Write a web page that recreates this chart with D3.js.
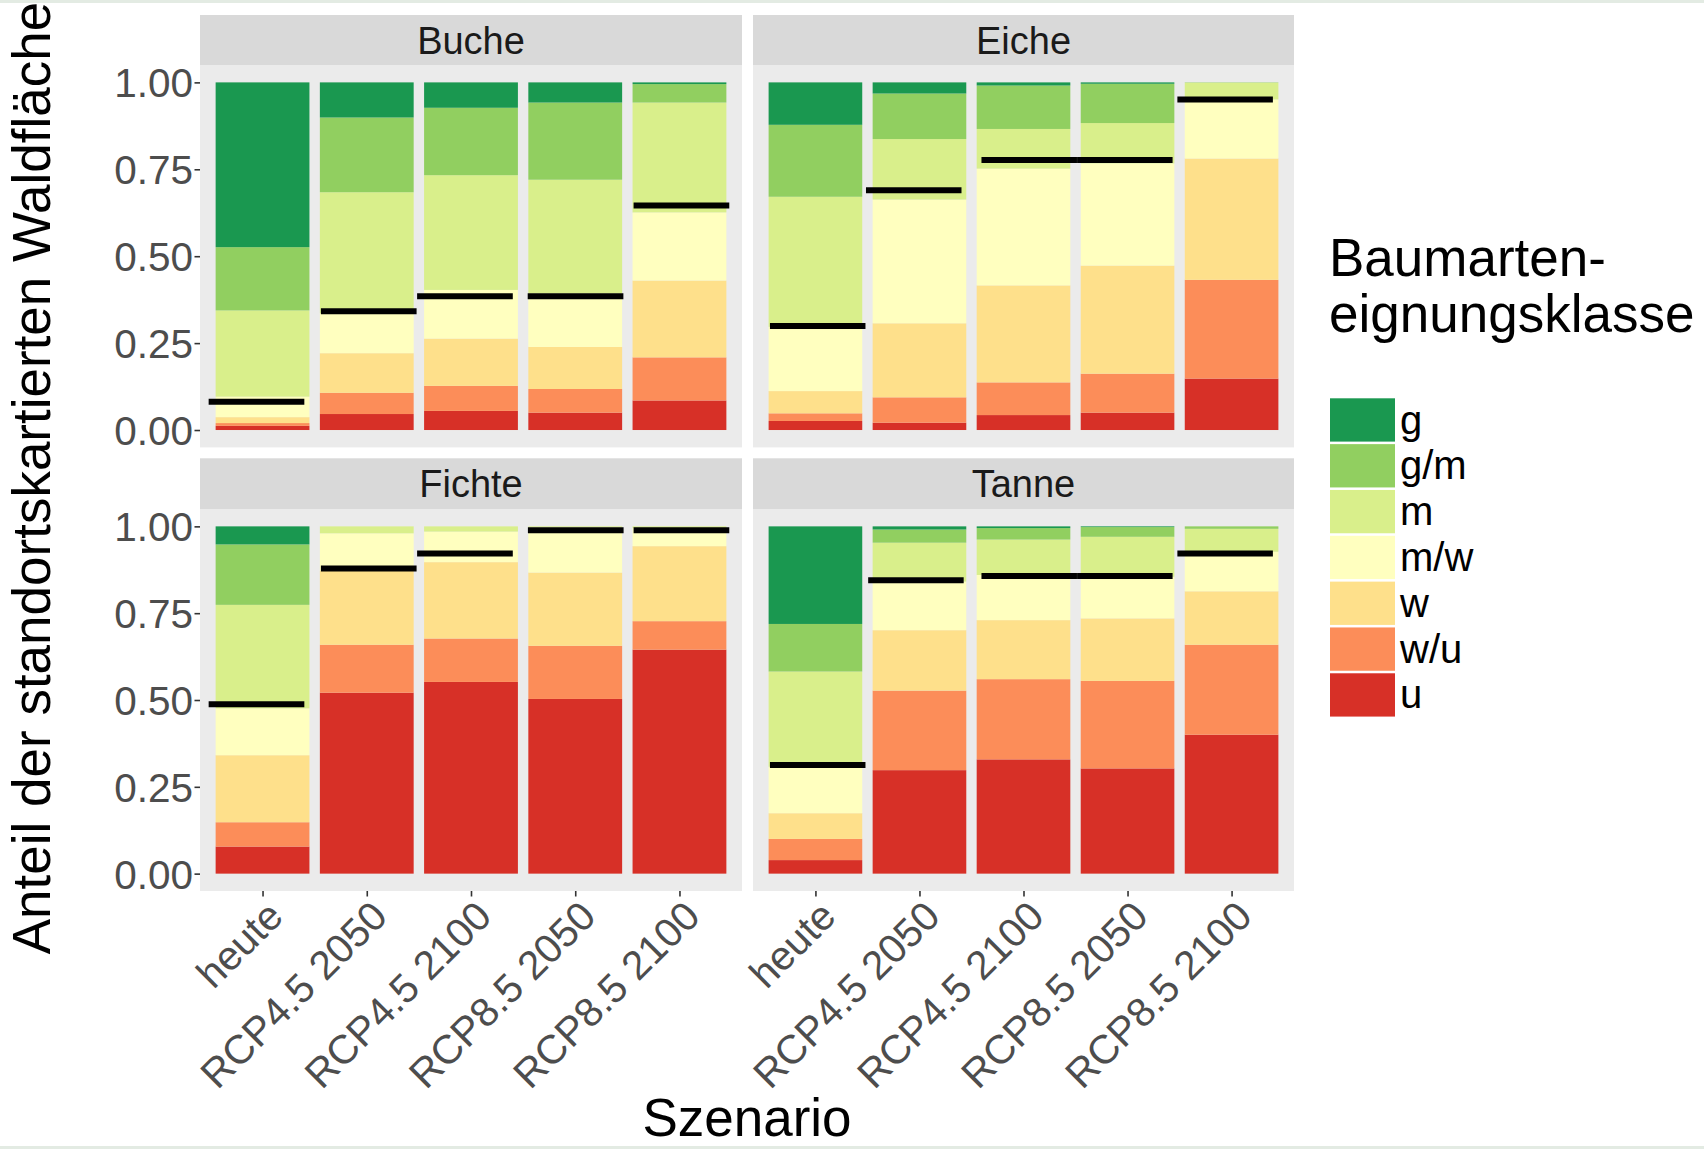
<!DOCTYPE html>
<html>
<head>
<meta charset="utf-8">
<script src="https://cdn.jsdelivr.net/npm/d3@7"></script>
<style>
  html, body { margin: 0; padding: 0; background: #ffffff; }
  svg { display: block; font-family: "Liberation Sans", Arial, sans-serif; }
</style>
</head>
<body>
<svg id="chart" width="1704" height="1149"></svg>
<script>
// ---------- DATA ----------
const scenarios = ["heute", "RCP4.5 2050", "RCP4.5 2100", "RCP8.5 2050", "RCP8.5 2100"];
const classes = ["g", "g/m", "m", "m/w", "w", "w/u", "u"];
const classColors = ["#1a9850", "#91cf60", "#d9ef8b", "#ffffbf", "#fee08b", "#fc8d59", "#d73027"];
const species = ["Buche", "Eiche", "Fichte", "Tanne"];
const yTicks = [0, 0.25, 0.5, 0.75, 1];

// shares per class (rows: g, g/m, m, m/w, w, w/u, u), columns = scenarios
const buche = [
  [0.474, 0.101, 0.073, 0.058, 0.005],
  [0.182, 0.215, 0.194, 0.222, 0.053],
  [0.248, 0.348, 0.330, 0.327, 0.316],
  [0.059, 0.115, 0.140, 0.154, 0.196],
  [0.017, 0.114, 0.136, 0.121, 0.221],
  [0.008, 0.061, 0.072, 0.068, 0.124],
  [0.012, 0.046, 0.055, 0.050, 0.085]
];
const eiche = [
  [0.122, 0.032, 0.009, 0.004, 0.000],
  [0.207, 0.131, 0.125, 0.113, 0.001],
  [0.374, 0.174, 0.114, 0.116, 0.048],
  [0.185, 0.356, 0.336, 0.294, 0.170],
  [0.064, 0.213, 0.279, 0.311, 0.349],
  [0.022, 0.073, 0.094, 0.112, 0.284],
  [0.026, 0.021, 0.043, 0.050, 0.148]
];
const fichte = [
  [0.052, 0.000, 0.000, 0.000, 0.000],
  [0.174, 0.000, 0.000, 0.000, 0.000],
  [0.298, 0.020, 0.015, 0.003, 0.005],
  [0.135, 0.108, 0.088, 0.130, 0.052],
  [0.193, 0.213, 0.220, 0.211, 0.216],
  [0.070, 0.138, 0.125, 0.153, 0.082],
  [0.078, 0.521, 0.552, 0.503, 0.645]
];
const tanne = [
  [0.281, 0.009, 0.005, 0.002, 0.000],
  [0.137, 0.038, 0.033, 0.028, 0.007],
  [0.274, 0.112, 0.102, 0.115, 0.066],
  [0.134, 0.140, 0.130, 0.120, 0.114],
  [0.074, 0.174, 0.170, 0.180, 0.154],
  [0.061, 0.229, 0.231, 0.252, 0.259],
  [0.039, 0.298, 0.329, 0.303, 0.400]
];
// black marker level per scenario
const bucheMark  = [0.081, 0.342, 0.385, 0.385, 0.646];
const eicheMark  = [0.299, 0.690, 0.777, 0.777, 0.951];
const fichteMark = [0.488, 0.879, 0.922, 0.989, 0.989];
const tanneMark  = [0.313, 0.845, 0.857, 0.857, 0.922];
// horizontal jitter of the marker (in category units)
const bucheJit  = [-0.058, 0.019, -0.058, 0.003, 0.019];
const eicheJit  = [0.022, -0.055, 0.055, -0.026, -0.062];
const fichteJit = [-0.058, 0.019, -0.058, 0.005, 0.019];
const tanneJit  = [0.022, -0.034, 0.055, -0.026, -0.062];

const speciesData = [buche, eiche, fichte, tanne];
const speciesMark = [bucheMark, eicheMark, fichteMark, tanneMark];
const speciesJit = [bucheJit, eicheJit, fichteJit, tanneJit];

// ---------- LAYOUT ----------
const svg = d3.select("#chart");
const colX = [[200, 742], [753, 1294]];
const rowY = [{strip: [15, 65], panel: [65, 447.4]}, {strip: [458.3, 509], panel: [509, 891]}];
const tickFont = 40.5, stripFont = 38, titleFont = 53, legFont = 40;

// frame lines of the screenshot
svg.append("rect").attr("x", 0).attr("y", 0).attr("width", 1704).attr("height", 3).attr("fill", "#e3ebe3");
svg.append("rect").attr("x", 0).attr("y", 1146).attr("width", 1704).attr("height", 3).attr("fill", "#e3ebe3");

const color = d3.scaleOrdinal().domain(classes).range(classColors);

species.forEach((sp, si) => {
  const col = si % 2, row = Math.floor(si / 2);
  const [x0, x1] = colX[col];
  const R = rowY[row];
  const x = d3.scalePoint().domain(scenarios).range([x0, x1]).padding(0.6);
  const step = x.step();
  const y = d3.scaleLinear().domain([-0.05, 1.05]).range([R.panel[1], R.panel[0]]);

  const g = svg.append("g");
  // strip
  g.append("rect").attr("x", x0).attr("y", R.strip[0]).attr("width", x1 - x0)
    .attr("height", R.strip[1] - R.strip[0]).attr("fill", "#d9d9d9");
  g.append("text").attr("x", (x0 + x1) / 2).attr("y", (R.strip[0] + R.strip[1]) / 2 + 0.358 * stripFont)
    .attr("text-anchor", "middle").attr("font-size", stripFont).attr("fill", "#1a1a1a").text(sp);
  // panel
  g.append("rect").attr("x", x0).attr("y", R.panel[0]).attr("width", x1 - x0)
    .attr("height", R.panel[1] - R.panel[0]).attr("fill", "#ebebeb");

  // stacked data
  const rows = scenarios.map((s, j) => {
    const o = {scenario: s};
    classes.forEach((c, ci) => { o[c] = speciesData[si][ci][j]; });
    return o;
  });
  const stack = d3.stack().keys(classes.slice().reverse());
  const series = stack(rows);
  g.selectAll("g.layer").data(series).join("g").attr("class", "layer")
    .attr("fill", d => color(d.key))
    .selectAll("rect").data(d => d).join("rect")
    .attr("x", d => x(d.data.scenario) - 0.45 * step)
    .attr("width", 0.9 * step)
    .attr("y", d => y(d[1]))
    .attr("height", d => Math.max(0, y(d[0]) - y(d[1])));

  // markers
  g.selectAll("line.mark").data(scenarios).join("line").attr("class", "mark")
    .attr("x1", (d, j) => x(d) + (speciesJit[si][j] - 0.459) * step)
    .attr("x2", (d, j) => x(d) + (speciesJit[si][j] + 0.459) * step)
    .attr("y1", (d, j) => y(speciesMark[si][j]))
    .attr("y2", (d, j) => y(speciesMark[si][j]))
    .attr("stroke", "#000").attr("stroke-width", 6);

  // y axis (left column only)
  if (col === 0) {
    const ya = g.append("g").attr("transform", `translate(${x0},0)`)
      .call(d3.axisLeft(y).tickValues(yTicks).tickFormat(d3.format(".2f")).tickSize(5.5).tickPadding(1.5));
    ya.select(".domain").remove();
    ya.selectAll(".tick line").attr("stroke", "#333333").attr("stroke-width", 1.6);
    ya.selectAll(".tick text").attr("font-size", tickFont).attr("fill", "#4d4d4d")
      .attr("font-family", "Liberation Sans, Arial, sans-serif").attr("dy", "0.36em");
  }
  // x axis (bottom row only)
  if (row === 1) {
    const xa = g.append("g").attr("transform", `translate(0,${R.panel[1]})`)
      .call(d3.axisBottom(x).tickSize(5.5).tickFormat(""));
    xa.select(".domain").remove();
    xa.selectAll(".tick line").attr("stroke", "#333333").attr("stroke-width", 1.6);
    g.selectAll("text.xl").data(scenarios).join("text").attr("class", "xl")
      .attr("transform", d => `translate(${x(d) + 2},${R.panel[1] + 7}) rotate(-45)`)
      .attr("text-anchor", "end").attr("dy", "0.72em")
      .attr("font-size", tickFont).attr("fill", "#4d4d4d").text(d => d);
  }
});

// axis titles
svg.append("text").attr("x", 747).attr("y", 1136).attr("text-anchor", "middle")
  .attr("font-size", titleFont).attr("fill", "#000").text("Szenario");
svg.append("text").attr("transform", "translate(50,478) rotate(-90)").attr("text-anchor", "middle")
  .attr("font-size", titleFont).attr("fill", "#000").text("Anteil der standortskartierten Waldfläche");

// legend
const lg = svg.append("g");
lg.append("text").attr("x", 1329).attr("y", 276).attr("font-size", titleFont).attr("fill", "#000").text("Baumarten-");
lg.append("text").attr("x", 1329).attr("y", 332).attr("font-size", titleFont).attr("fill", "#000").text("eignungsklasse");
const keyStep = 45.83, keyTop = 398.3;
classes.forEach((c, i) => {
  lg.append("rect").attr("x", 1330).attr("y", keyTop + i * keyStep).attr("width", 65).attr("height", 43.3)
    .attr("fill", color(c));
  lg.append("text").attr("x", 1400).attr("y", keyTop + i * keyStep + 21.7 + 13.5)
    .attr("font-size", legFont).attr("fill", "#000").text(c);
});
</script>
</body>
</html>
